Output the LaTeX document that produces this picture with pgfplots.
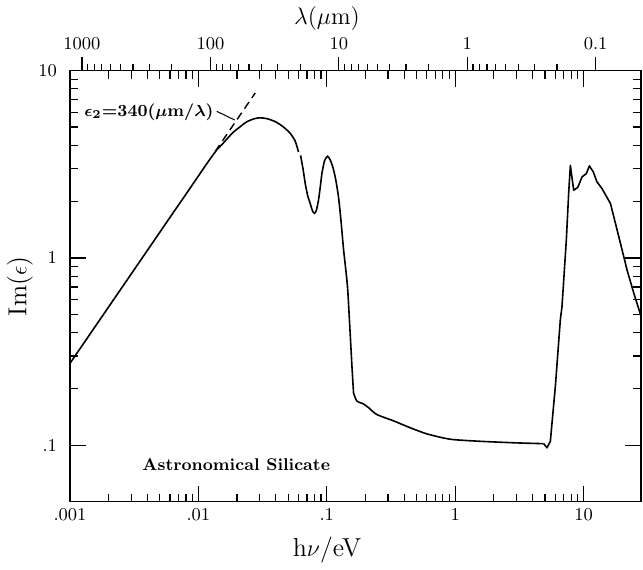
\documentclass[border=0pt]{standalone}
\usepackage{pgfplots}
\pgfplotsset{compat=1.18}
\pgfplotstableread{
x y
0.001 0.274
0.002 0.548
0.004 1.096
0.006 1.645
0.008 2.19
0.010 2.74
0.012 3.29
0.014 3.80
0.0155 4.08
0.017 4.38
0.01875 4.70
0.021 5.00
0.0238 5.33
0.027 5.53
0.030 5.60
0.034 5.55
0.040 5.33
0.046 5.00
0.052 4.62
0.0568 4.20
0.0602 3.68
}\segA
\pgfplotstableread{
x y
0.0625 3.53
0.0655 2.95
0.0679 2.50
0.0710 2.15
0.0743 1.95
0.0775 1.78
0.0802 1.73
0.0830 1.80
0.0861 2.03
0.0890 2.40
0.0916 2.82
0.0960 3.30
0.1012 3.49
0.1060 3.35
0.1114 3.06
0.117 2.65
0.1233 2.12
0.129 1.58
0.1349 1.12
0.1449 0.704
0.152 0.397
0.157 0.264
0.1616 0.190
}\segB
\pgfplotstableread{
x y
0.1616 0.190
0.1716 0.172
0.191 0.167
0.211 0.159
0.245 0.146
0.331 0.135
0.447 0.124
0.603 0.115
0.916 0.1077
1.57 0.105
3.0 0.103
4.89 0.102
}\segC
\pgfplotstableread{
x y
4.89 0.102
5.19 0.097
5.51 0.105
6.03 0.207
6.59 0.468
6.79 0.551
7.34 1.25
7.65 2.21
7.89 3.12
8.37 2.30
9.0 2.38
9.73 2.71
10.5 2.82
11.1 3.10
11.9 2.88
12.7 2.55
13.9 2.35
16.2 1.95
18.8 1.30
21.8 0.863
24.6 0.649
28.0 0.49
}\segD
\pgfplotstableread{
x y
0.0135 3.70
0.0277 7.60
}\fitline
\begin{document}
\begin{tikzpicture}
\pgfplotsset{every axis/.append style={scale only axis, width=285.5pt, height=215.5pt,
  xmode=log, ymode=log, ymin=0.05, ymax=10, clip=false}}
\begin{axis}[
  xmin=0.001, xmax=28,
  axis line style={line width=0.7pt},
  tick align=inside,
  xtick pos=both, ytick pos=both,
  xticklabel pos=lower, yticklabel pos=left,
  xtick={0.001,0.01,0.1,1,10}, xticklabels={.001,.01,.1,1,10},
  ytick={0.1,1,10}, yticklabels={.1,1,10},
  major tick length=8pt, minor tick length=4pt,
  every tick/.style={black, line width=0.6pt},
  tick label style={font=\fontsize{9}{10}\selectfont},
  yticklabel style={xshift=-3pt},
  xlabel={h$\nu$/eV}, ylabel={Im($\epsilon$)},
  label style={font=\fontsize{13}{15}\selectfont},
  xlabel style={at={(axis description cs:0.45,-0.111)}, anchor=center},
  ylabel style={at={(axis description cs:-0.0876,0.5)}, anchor=center},
]
\addplot[black, line width=0.8pt, smooth, tension=0.4] table[x=x,y=y] {\segA};
\addplot[black, line width=0.8pt, smooth, tension=0.4] table[x=x,y=y] {\segB};
\addplot[black, line width=0.8pt, smooth, tension=0.4] table[x=x,y=y] {\segC};
\addplot[black, line width=0.8pt, line join=round] table[x=x,y=y] {\segD};
\addplot[black, line width=0.7pt, dash pattern=on 4pt off 2.5pt] table[x=x,y=y] {\fitline};
\draw[line width=0.5pt] (axis cs:0.0139,6.07) -- (axis cs:0.0192,5.45);
\node[anchor=east, inner sep=1pt, font=\fontsize{8.5}{10}\selectfont\bfseries\boldmath] at (axis cs:0.0137,6.0) {$\epsilon_2$=340($\mu$m/$\lambda$)};
\node[anchor=west, inner sep=0pt, font=\fontsize{8.5}{10}\selectfont\bfseries] at (axis cs:0.00364,0.0792) {Astronomical Silicate};
\path (axis description cs:-0.1226,-0.1508) rectangle (axis description cs:1.0035,1.1624);
\end{axis}
\begin{axis}[
  xmin=0.044278, xmax=1239.8, x dir=reverse,
  hide y axis, axis x line*=top,
  axis line style={line width=0.7pt},
  tick align=outside,
  xtick={0.1,1,10,100,1000}, xticklabels={0.1,1,10,100,1000},
  major tick length=7pt, minor tick length=3.5pt,
  every tick/.style={black, line width=0.6pt},
  tick label style={font=\fontsize{9}{10}\selectfont},
  xlabel={$\lambda(\mu\mathrm{m})$},
  label style={font=\fontsize{13}{15}\selectfont},
  xlabel style={at={(axis description cs:0.45,1.1206)}, anchor=center},
]
\addplot[draw=none] coordinates {(1,1)};
\end{axis}
\end{tikzpicture}
\end{document}
